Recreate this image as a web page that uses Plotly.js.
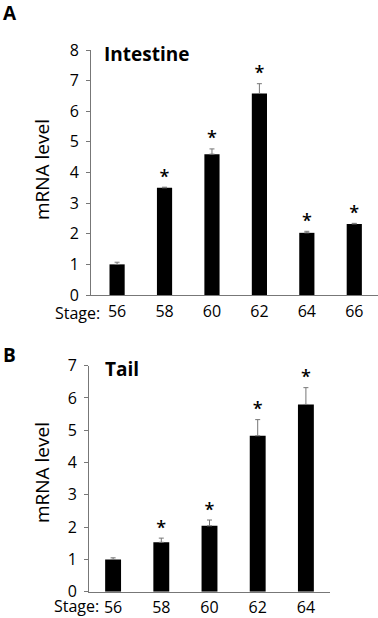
<!DOCTYPE html>
<html>
<head>
<meta charset="utf-8">
<script src="https://cdn.plot.ly/plotly-3.0.1.min.js"></script>
<style>
html,body{margin:0;padding:0;background:#fff;}
#chart{width:378px;height:618px;}
</style>
</head>
<body>
<div id="chart"></div>
<script>
// Panel A: Intestine
const stagesA = ["56", "58", "60", "62", "64", "66"];
const valuesA = [1.0, 3.5, 4.6, 6.58, 2.03, 2.32];
const errorsA = [0.07, 0.02, 0.17, 0.32, 0.05, 0.02];
const sigA = ["", "*", "*", "*", "*", "*"];

// Panel B: Tail
const stagesB = ["56", "58", "60", "62", "64"];
const valuesB = [1.0, 1.53, 2.04, 4.83, 5.8];
const errorsB = [0.05, 0.13, 0.18, 0.5, 0.52];
const sigB = ["", "*", "*", "*", "*"];

const FONT = "Open Sans, Noto Sans, sans-serif";
const W = 378, H = 618;
const px = v => v / W;
const py = v => 1 - v / H;

const errStyle = (arr) => ({
  type: "data", array: arr, arrayminus: arr.map(() => 0), symmetric: false,
  color: "#777", thickness: 1, width: 2.5, visible: true
});

const tops = (v, e) => v.map((d, i) => d + e[i]);

const traces = [
  {type: "bar", x: stagesA, y: valuesA, xaxis: "x", yaxis: "y",
   marker: {color: "#000"}, width: 0.32, error_y: errStyle(errorsA),
   hoverinfo: "x+y", showlegend: false},
  {type: "scatter", mode: "text", x: stagesA, y: tops(valuesA, errorsA), text: sigA,
   textposition: "top center", textfont: {family: FONT, size: 18, color: "#000", weight: 600},
   xaxis: "x", yaxis: "y", showlegend: false, hoverinfo: "skip", cliponaxis: false},
  {type: "bar", x: stagesB, y: valuesB, xaxis: "x2", yaxis: "y2",
   marker: {color: "#000"}, width: 0.33, error_y: errStyle(errorsB),
   hoverinfo: "x+y", showlegend: false},
  {type: "scatter", mode: "text", x: stagesB, y: tops(valuesB, errorsB), text: sigB,
   textposition: "top center", textfont: {family: FONT, size: 18, color: "#000", weight: 600},
   xaxis: "x2", yaxis: "y2", showlegend: false, hoverinfo: "skip", cliponaxis: false}
];

const xCommon = {
  type: "category", showline: true, linecolor: "#777", linewidth: 1,
  ticks: "", showgrid: false, zeroline: false, fixedrange: true,
  tickfont: {family: FONT, size: 16, color: "#000"}, ticklabelstandoff: 2
};
const yCommon = {
  showline: true, linecolor: "#777", linewidth: 1, ticks: "outside", ticklen: 4,
  tickcolor: "#777", dtick: 1, showgrid: false, zeroline: false, fixedrange: true,
  tickfont: {family: FONT, size: 16, color: "#000"}, ticklabelstandoff: 4
};

const layout = {
  width: W, height: H,
  margin: {l: 0, r: 0, t: 0, b: 0},
  paper_bgcolor: "#fff", plot_bgcolor: "#fff",
  showlegend: false,
  xaxis: Object.assign({}, xCommon, {domain: [px(91), 1], anchor: "y", range: [-0.55, 5.5]}),
  yaxis: Object.assign({}, yCommon, {domain: [py(295), py(50)], anchor: "x", range: [0, 8]}),
  xaxis2: Object.assign({}, xCommon, {domain: [px(89), px(330)], anchor: "y2", range: [-0.5, 4.5], ticklabelstandoff: 1}),
  yaxis2: Object.assign({}, yCommon, {domain: [py(591.7), py(365.7)], anchor: "x2", range: [0, 7]}),
  annotations: [
    {text: "<b>A</b>", x: px(1), y: py(13), xref: "paper", yref: "paper", xanchor: "left", yanchor: "middle",
     showarrow: false, font: {family: FONT, size: 19, color: "#000"}},
    {text: "<b>Intestine</b>", x: px(102), y: py(54), xref: "paper", yref: "paper", xanchor: "left", yanchor: "middle",
     showarrow: false, font: {family: FONT, size: 19, color: "#000"}},
    {text: "mRNA level", x: px(42), y: py(170), xref: "paper", yref: "paper", xanchor: "center", yanchor: "middle",
     textangle: -90, showarrow: false, font: {family: FONT, size: 19, color: "#000"}},
    {text: "Stage:", x: px(102), y: py(313), xref: "paper", yref: "paper", xanchor: "right", yanchor: "middle",
     showarrow: false, font: {family: FONT, size: 16, color: "#000"}},
    {text: "<b>B</b>", x: px(1), y: py(355), xref: "paper", yref: "paper", xanchor: "left", yanchor: "middle",
     showarrow: false, font: {family: FONT, size: 19, color: "#000"}},
    {text: "<b>Tail</b>", x: px(103), y: py(369), xref: "paper", yref: "paper", xanchor: "left", yanchor: "middle",
     showarrow: false, font: {family: FONT, size: 19, color: "#000"}},
    {text: "mRNA level", x: px(42), y: py(473), xref: "paper", yref: "paper", xanchor: "center", yanchor: "middle",
     textangle: -90, showarrow: false, font: {family: FONT, size: 19, color: "#000"}},
    {text: "Stage:", x: px(101), y: py(606), xref: "paper", yref: "paper", xanchor: "right", yanchor: "middle",
     showarrow: false, font: {family: FONT, size: 16, color: "#000"}}
  ]
};

Plotly.newPlot("chart", traces, layout, {staticPlot: true, displayModeBar: false});
</script>
</body>
</html>
